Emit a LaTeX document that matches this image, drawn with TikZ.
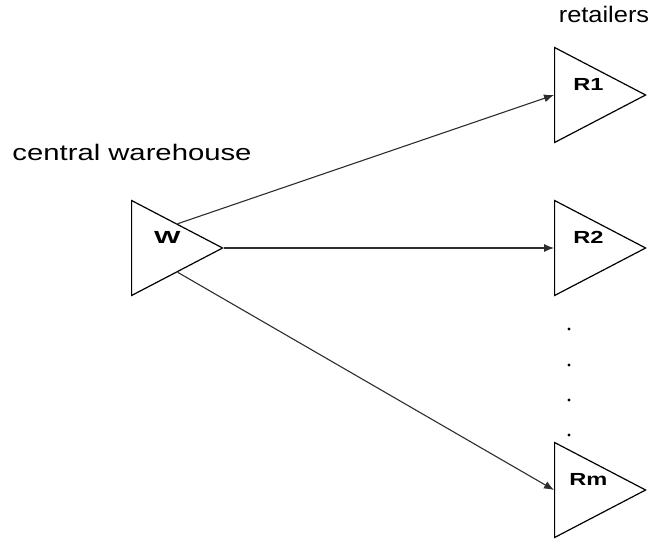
\documentclass[tikz,border=0pt]{standalone}
\usepackage{fontspec}
\setmainfont{Liberation Sans}
\usepackage{tikz}
\usetikzlibrary{arrows}
\usetikzlibrary{arrows.meta}
\usetikzlibrary{shapes.geometric}
\definecolor{edgecol}{RGB}{45, 45, 45}

\tikzset{
  stage/.style={isosceles triangle, isosceles triangle stretches, draw=black,
    line width=1.2pt, minimum width=95pt, minimum height=91pt, inner sep=0pt,
    anchor=lower side},
  tag/.style={font=\fontsize{17.5}{19}\selectfont\bfseries, xshift=5pt, yshift=11pt},
  caption/.style={inner sep=0pt, font=\fontsize{22.5}{26}\selectfont}
}

\begin{document}
\begin{tikzpicture}[x=1pt,y=1pt]
  \useasboundingbox (0,0) rectangle (653,-541);
  % warehouse and retailers
  \node[stage, label={[tag, xshift=2pt]center:\scalebox{1.6}[1]{W}}] (W) at (131,-248) {};
  \node[stage, label={[tag]center:\scalebox{1.35}[1]{R1}}] (R1) at (554,-95) {};
  \node[stage, label={[tag]center:\scalebox{1.35}[1]{R2}}] (R2) at (554,-248) {};
  \node[stage, label={[tag]center:\scalebox{1.35}[1]{Rm}}] (Rm) at (554,-490) {};
  \node[caption] (cw) at (132,-152) {\scalebox{1.3}[1]{central warehouse}};
  \node[caption] (rt) at (604,-14) {\scalebox{1.13}[1]{retailers}};
  % dots between R2 and Rm
  \foreach \y in {-329,-365,-400,-435}
    \fill (569,\y) circle (1.7);
  \path[-{Latex[length=10pt,width=8pt]}, color=edgecol, line width=1.1pt]
    (W.left side) edge (R1.lower side)
    (W.apex) edge (R2.lower side)
    (W.right side) edge (Rm.lower side);
\end{tikzpicture}
\end{document}
